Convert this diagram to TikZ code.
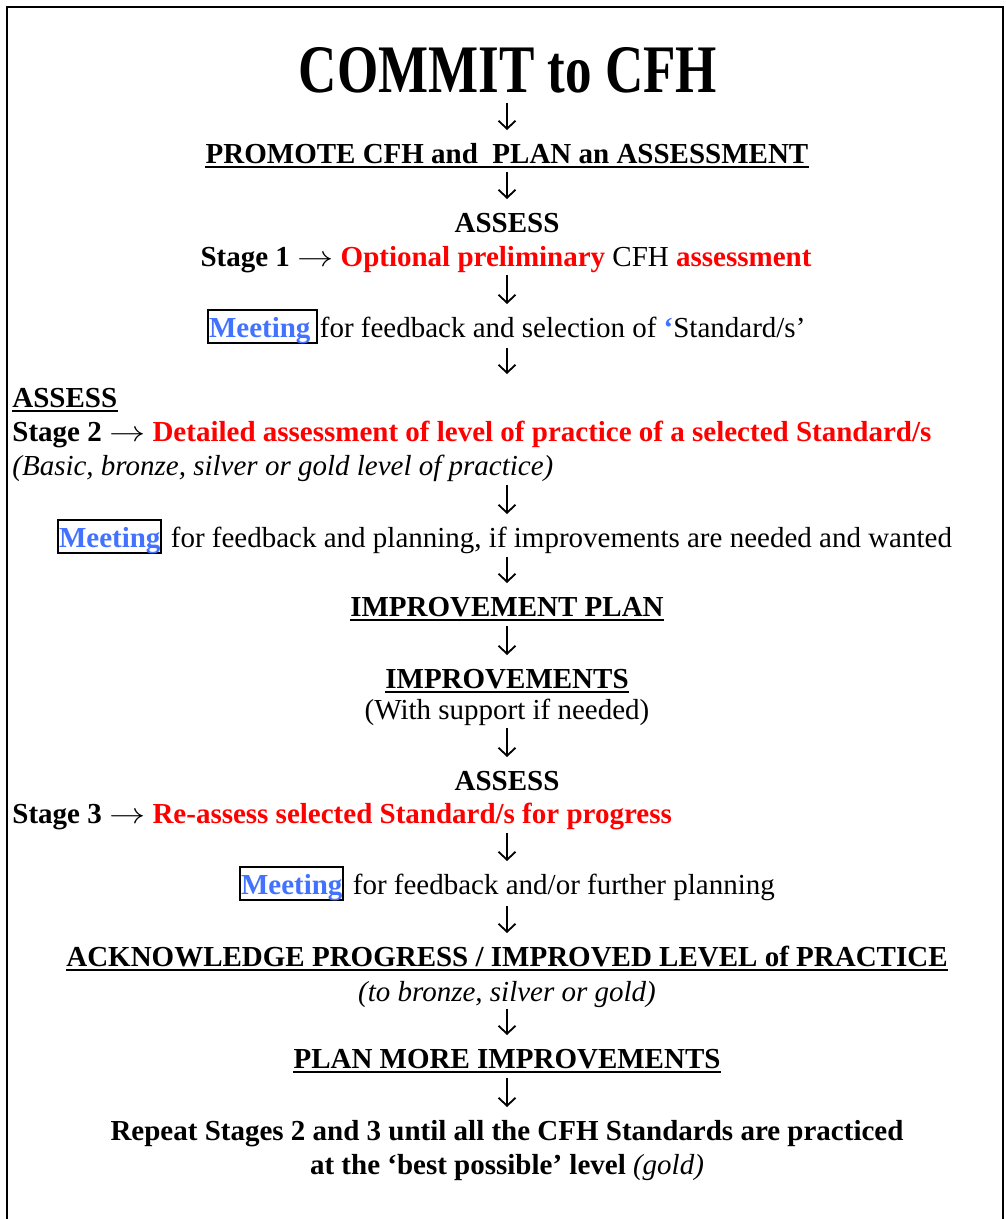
\RequirePackage{fix-cm}
\documentclass[tikz,border=0pt]{standalone}
\usepackage{fontspec}
\setmainfont{Liberation Serif}
\newfontfamily\titlefont[FakeStretch=0.78]{Liberation Serif}
\usetikzlibrary{arrows.meta,positioning}
\definecolor{meetblue}{RGB}{66,114,255}
\newcommand{\stagearrow}{\scalebox{1.25}[1]{$\rightarrow$}}

\begin{document}
\begin{tikzpicture}[x=1pt, y=-1pt, thick]

   \tikzstyle{txt}=[inner sep=0pt, anchor=base, font=\fontsize{29}{34}\selectfont]
   \tikzstyle{hd}=[txt, font=\fontsize{29}{34}\selectfont\bfseries]
   \tikzstyle{it}=[txt, font=\fontsize{29}{34}\selectfont\itshape]
   \tikzstyle{ulline}=[line width=2pt]
   \tikzstyle{meet}=[draw, line width=2pt, anchor=base west, inner xsep=1pt, inner ysep=0pt, text height=27pt, text depth=6pt, text=meetblue, font=\fontsize{29}{34}\selectfont\bfseries]
   \tikzstyle{flow}=[-{Straight Barb[length=8pt,width=17pt]}, line width=1.8pt]

   \useasboundingbox (0,0) rectangle (1006,1219);
   \draw[line width=2pt] (7,1219) -- (7,6.5) -- (1003,6.5) -- (1003,1219);

   \node[txt, font=\titlefont\fontsize{68}{80}\selectfont\bfseries] (commit) at (508,92) {COMMIT to CFH};
   \node[hd] (promote) at (507,163) {PROMOTE CFH and\ \ PLAN an ASSESSMENT};
   \node[hd] (assessi) at (507,232) {ASSESS};
   \node[txt] (stagei) at (506,266) {\textbf{Stage 1 \stagearrow} \textcolor{red}{\textbf{Optional preliminary}} CFH \textcolor{red}{\textbf{assessment}}};
   \node[meet] (meeti) at (207,337) {Meeting\kern6pt};
   \node[txt, anchor=base west] (meetitxt) at ([xshift=1pt]meeti.base east) {for feedback and selection of \textcolor{meetblue}{\textbf{‘}}Standard/s’};

   \node[hd, anchor=base west] (assessii) at (12,407) {ASSESS};
   \node[txt, anchor=base west] (stageii) at (12,441) {\textbf{Stage 2 \stagearrow} \textcolor{red}{\textbf{Detailed assessment of level of practice of a selected Standard/s}}};
   \node[it, anchor=base west] (levels) at (12,475) {(Basic, bronze, silver or gold level of practice)};
   \node[meet] (meetii) at (57,547) {Meeting};
   \node[txt, anchor=base west] (meetiitxt) at ([xshift=8pt]meetii.base east) {for feedback and planning, if improvements are needed and wanted};

   \node[hd] (plan) at (507,616) {IMPROVEMENT PLAN};
   \node[hd] (improve) at (507,688) {IMPROVEMENTS};
   \node[txt] (support) at (507,719) {(With support if needed)};

   \node[hd] (assessiii) at (507,790) {ASSESS};
   \node[txt, anchor=base west] (stageiii) at (12,823) {\textbf{Stage 3 \stagearrow} \textcolor{red}{\textbf{Re-assess selected Standard/s for progress}}};
   \node[meet] (meetiii) at (239,894) {Meeting};
   \node[txt, anchor=base west] (meetiiitxt) at ([xshift=8pt]meetiii.base east) {for feedback and/or further planning};

   \node[hd] (ack) at (507,966) {ACKNOWLEDGE PROGRESS / IMPROVED LEVEL of PRACTICE};
   \node[it] (tobronze) at (507,1001) {(to bronze, silver or gold)};
   \node[hd] (more) at (507,1068) {PLAN MORE IMPROVEMENTS};
   \node[hd] (repeat) at (507,1140) {Repeat Stages 2 and 3 until all the CFH Standards are practiced};
   \node[hd] (gold) at (507,1174) {at the ‘best possible’ level \textit{\mdseries (gold)}};

   % underlined headings
   \foreach \n in {promote, assessii, plan, improve, ack, more}
      \draw[ulline] ([yshift=-4]\n.base west) -- ([yshift=-4]\n.base east);

   % down arrows on the middle axis
   \coordinate (axis) at (507,0);
   \foreach \a/\b/\s in {commit/promote/11, promote/assessi/9, stagei/meeti/9, meeti/assessii/11,
                         levels/meetii/10, meetii/plan/10, plan/improve/10, support/assessiii/9,
                         stageiii/meetiii/10, meetiii/ack/12, tobronze/more/8, more/repeat/10}
      \draw[flow] ([yshift=-\s]\a.base -| axis) -- ([yshift=33]\b.base -| axis);

\end{tikzpicture}
\end{document}
